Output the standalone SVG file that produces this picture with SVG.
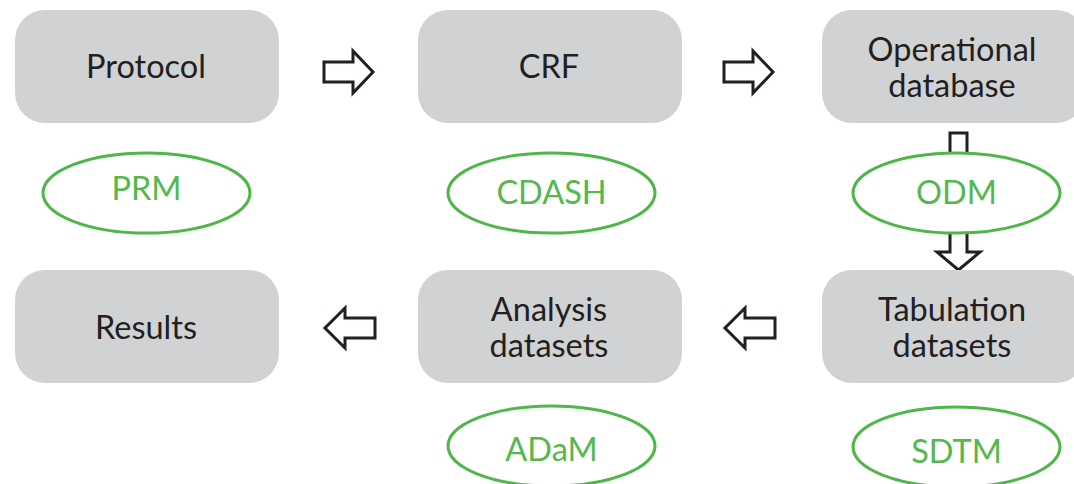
<svg xmlns="http://www.w3.org/2000/svg" width="1074" height="484" viewBox="0 0 1074 484">
<style>
.box{fill:#d1d2d4;}
.lbl{font-family:Lato,"Liberation Sans",sans-serif;font-size:32.5px;font-weight:400;fill:#231f20;text-anchor:middle;}
.ell{fill:#fff;stroke:#4fb648;stroke-width:3;}
.std{font-family:Lato,"Liberation Sans",sans-serif;font-size:32.5px;font-weight:400;fill:#55b84c;text-anchor:middle;}
.arr{fill:#fff;stroke:#231f20;stroke-width:3;stroke-linejoin:miter;}
</style>
<rect width="1074" height="484" fill="#fff"/>
<g id="connectors">
<polygon class="arr" points="324,62 353,62 353,51 373,72 353,93 353,82 324,82"/>
<polygon class="arr" points="724,62 753,62 753,51 773,72 753,93 753,82 724,82"/>
<polygon class="arr" points="375,318 345,318 345,308 325,328 345,348 345,338 375,338"/>
<polygon class="arr" points="775,318 745,318 745,308 725,328 745,348 745,338 775,338"/>
<polygon class="arr" points="950,133 967,133 967,252 980,252 958.5,270 937,252 950,252"/>
</g>
<g id="protocol"><rect class="box" x="15" y="10" width="264" height="113" rx="30"/><text class="lbl" x="146" y="78">Protocol</text></g>
<g id="crf"><rect class="box" x="418" y="10" width="264" height="113" rx="30"/><text class="lbl" x="549" y="78">CRF</text></g>
<g id="opdb"><rect class="box" x="822" y="10" width="264" height="113" rx="30"/><text class="lbl" x="952" y="61">Operational</text><text class="lbl" x="952" y="97">database</text></g>
<g id="results"><rect class="box" x="15" y="270" width="264" height="113" rx="30"/><text class="lbl" x="146" y="339">Results</text></g>
<g id="analysis"><rect class="box" x="418" y="270" width="264" height="113" rx="30"/><text class="lbl" x="549" y="321">Analysis</text><text class="lbl" x="549" y="357">datasets</text></g>
<g id="tabulation"><rect class="box" x="822" y="270" width="264" height="113" rx="30"/><text class="lbl" x="952" y="321">Tabulation</text><text class="lbl" x="952" y="357">datasets</text></g>
<g id="prm"><ellipse class="ell" cx="146.5" cy="193" rx="103.5" ry="40"/><text class="std" x="146.5" y="200">PRM</text></g>
<g id="cdash"><ellipse class="ell" cx="551.5" cy="193" rx="103.5" ry="40"/><text class="std" x="551.5" y="204">CDASH</text></g>
<g id="odm"><ellipse class="ell" cx="956.5" cy="193" rx="103.5" ry="40"/><text class="std" x="956.5" y="204">ODM</text></g>
<g id="adam"><ellipse class="ell" cx="551.5" cy="446" rx="103.5" ry="40"/><text class="std" x="551.5" y="461">ADaM</text></g>
<g id="sdtm"><ellipse class="ell" cx="956.5" cy="447" rx="103.5" ry="40"/><text class="std" x="956.5" y="463">SDTM</text></g>
</svg>
